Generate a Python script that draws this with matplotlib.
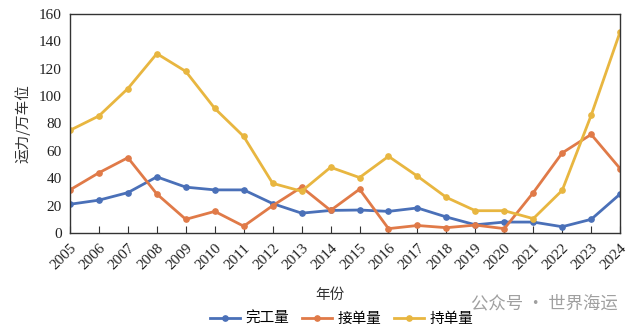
import matplotlib.pyplot as plt

# 数据（从图中读取，单位：万车位）
years = list(range(2005, 2025))
completed = [21, 24, 29.5, 41, 33.5, 31.5, 31.5, 21.5, 14.5, 16.5,
             16.8, 15.8, 18.3, 11.7, 6, 8, 8, 4.6, 10, 28.5]
orders = [31.5, 44, 55, 28.5, 10, 15.8, 5, 20, 33.5, 16.5,
          32, 3.2, 5.5, 3.9, 5.8, 3.2, 29.5, 58.5, 72, 47]
orderbook = [75, 85.5, 105.5, 131, 118, 91, 70.5, 36.3, 30.5, 48,
             40.5, 56, 41.5, 26, 16.3, 16.3, 10.5, 31.2, 86, 147]

series_names = ["完工量", "接单量", "持单量"]
colors = ["#4a70b8", "#e07a48", "#e8b640"]

plt.rcParams['font.family'] = ['Liberation Serif', 'Noto Sans CJK SC', 'DejaVu Sans']

fig = plt.figure(figsize=(6.39, 3.31), dpi=100)
ax = fig.add_axes([0.1095, 0.296, 0.861, 0.662])

for vals, name, c in zip([completed, orders, orderbook], series_names, colors):
    ax.plot(years, vals, color=c, lw=2.0, marker="o", markersize=3.8, label=name)

ax.set_xlim(2005, 2024)
ax.set_ylim(0, 160)
ax.set_xticks(years)
ax.set_xticklabels([str(y) for y in years], rotation=45, ha="right",
                   rotation_mode="anchor", fontsize=11, color="#222222")
ax.set_yticks(range(0, 161, 20))
ax.tick_params(axis="y", length=0, labelsize=11, labelcolor="#222222", pad=6)
ax.tick_params(axis="x", direction="in", length=5, color="#333333", pad=6)
for s in ax.spines.values():
    s.set_color("#333333")
    s.set_linewidth(1.0)

ax.set_ylabel("运力/万车位", family=['Noto Sans CJK SC'], fontsize=10.5, color="#333333", labelpad=6)
ax.set_xlabel("年份", family=['Noto Sans CJK SC'], fontsize=10.5, color="#333333")
ax.xaxis.set_label_coords((330 - 70) / 550, -(288 - 233) / 219, transform=ax.transAxes)

fig.legend(loc="center", bbox_to_anchor=(0.535, 0.036), ncol=3, frameon=False,
           prop={"family": "Noto Sans CJK SC", "size": 10.5},
           handlelength=2.0, columnspacing=0.9, handletextpad=0.4)

fig.text(0.966, 0.082, "公众号 · 世界海运", ha="right", va="center",
         family=['Noto Sans CJK SC'], fontsize=12.5, color="#a0a0a0")

fig.savefig("out.png", dpi=100)
